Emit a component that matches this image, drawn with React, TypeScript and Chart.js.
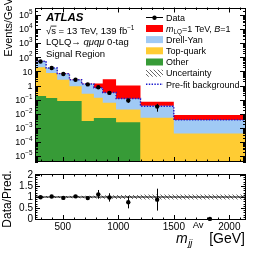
import React, { useEffect, useRef } from "react";
import { Chart, registerables } from "chart.js";
Chart.register(...registerables);

const FONT = "'Liberation Sans', Arial, Helvetica, sans-serif";

// ---- data ----
const binEdges = [250, 350, 450, 560, 670, 780, 860, 980, 1200, 1500, 2150];
const otherBkg = [0.18, 0.13, 0.08, 0.08, 0.0031, 0.005, 0.005, 0.0025, 0, 0];
const topQuark = [19.2, 7.67, 2.52, 0.82, 0.257, 0.13, 0.055, 0.0175, 0.0053, 0.0004];
const drellYan = [32.6, 9.5, 4.3, 1.6, 1.0, 0.535, 0.25, 0.096, 0.031, 0.0032];
const signalLQ = [0.4, 0.25, 0.15, 0.12, 0.1, 0.73, 2.5, 0.9, 0.035, 0.0044];
const preFitBkg = [53, 17.6, 7.0, 2.6, 1.28, 0.7, 0.32, 0.12, 0.034, 0.0037];
const dataValues = [51, 17.6, 6.6, 2.6, 1.2, 0.75, 0.3, 0.088, 0.032, 0];
const dataErrors = [1.4, 0.7, 0.35, 0.17, 0.09, 0.13, 0.06, 0.028, 0.018, 0];
const ratioValues = [0.99, 1.02, 0.96, 1.03, 0.95, 1.12, 0.98, 0.76, 0.88, 0];
const ratioErrors = [0.03, 0.04, 0.05, 0.06, 0.07, 0.2, 0.19, 0.28, 0.5, 0];
const uncertainty = [0.045, 0.045, 0.05, 0.055, 0.06, 0.07, 0.08, 0.09, 0.11, 0.11];
const ratioTickValues = [0, 0.5, 1, 1.5, 2];
const xTickValues = [500, 1000, 1500, 2000];
const logExponents = [5, 4, 3, 2, 1, 0, -1, -2, -3, -4, -5];

const X_MIN = 250;
const X_MAX = 2150;
const Y_MIN = 3.8e-6;
const Y_MAX = 3.4e5;

const RED = "#ff0000";
const BLUE = "#a0caf5";
const YELLOW = "#ffcc33";
const GREEN = "#379b37";
const PREFIT = "#1a1acc";

const binCenters = binEdges.slice(0, -1).map((e, i) => (e + binEdges[i + 1]) / 2);

function histPoints(values: number[]) {
  const pts: { x: number; y: number }[] = [];
  for (let i = 0; i < values.length; i++) {
    if (values[i] > 0) {
      pts.push({ x: binEdges[i], y: values[i] });
      if (i === values.length - 1 || !(values[i + 1] > 0)) pts.push({ x: binEdges[i + 1], y: values[i] });
    }
  }
  return pts;
}

const cumOther = otherBkg.slice();
const cumTop = otherBkg.map((v, i) => v + topQuark[i]);
const cumDY = cumTop.map((v, i) => v + drellYan[i]);
const cumSig = cumDY.map((v, i) => v + signalLQ[i]);

type Seg = { t: string; size: number; italic?: boolean; bold?: boolean; dy?: number; dx?: number };

function fontOf(s: Seg) {
  return `${s.italic ? "italic " : ""}${s.bold ? "bold " : ""}${s.size}px ${FONT}`;
}

function drawSegs(ctx: CanvasRenderingContext2D, segs: Seg[], x: number, y: number, align: "left" | "right" = "left") {
  ctx.save();
  ctx.textBaseline = "alphabetic";
  ctx.textAlign = "left";
  ctx.fillStyle = "#000";
  let total = 0;
  for (const s of segs) {
    ctx.font = fontOf(s);
    total += ctx.measureText(s.t).width + (s.dx || 0);
  }
  let cx = align === "right" ? x - total : x;
  const out: { x: number; w: number }[] = [];
  for (const s of segs) {
    ctx.font = fontOf(s);
    cx += s.dx || 0;
    const w = ctx.measureText(s.t).width;
    ctx.fillText(s.t, cx, y + (s.dy || 0));
    out.push({ x: cx, w });
    cx += w;
  }
  ctx.restore();
  return out;
}

function makeHatch() {
  const c = document.createElement("canvas");
  c.width = 4;
  c.height = 4;
  const g = c.getContext("2d")!;
  g.strokeStyle = "#555";
  g.lineWidth = 0.9;
  g.beginPath();
  g.moveTo(0, 0); g.lineTo(4, 4);
  g.moveTo(-1, 3); g.lineTo(1, 5);
  g.moveTo(3, -1); g.lineTo(5, 1);
  g.stroke();
  return g.createPattern(c, "repeat")!;
}

function line(ctx: CanvasRenderingContext2D, x1: number, y1: number, x2: number, y2: number) {
  ctx.beginPath();
  ctx.moveTo(x1, y1);
  ctx.lineTo(x2, y2);
  ctx.stroke();
}

function drawXTicks(ctx: CanvasRenderingContext2D, a: any, x: any, major: number, minor: number) {
  for (let v = 300; v <= 2100; v += 100) {
    const px = Math.round(x.getPixelForValue(v)) + 0.5;
    const len = v % 500 === 0 ? major : minor;
    line(ctx, px, a.bottom, px, a.bottom - len);
    line(ctx, px, a.top, px, a.top + len);
  }
}

function drawFrame(ctx: CanvasRenderingContext2D, a: any) {
  const l = Math.round(a.left) + 0.5;
  const r = Math.round(a.right) - 0.5;
  const t = Math.round(a.top) + 0.5;
  const b = Math.round(a.bottom) - 0.5;
  ctx.strokeRect(l, t, r - l, b - t);
}

export default function App() {
  const upperRef = useRef<HTMLCanvasElement>(null);
  const lowerRef = useRef<HTMLCanvasElement>(null);

  useEffect(() => {
    const hatch = makeHatch();

    const upperDecor = {
      id: "upperDecor",
      afterDatasetsDraw(chart: any) {
        const { ctx, chartArea: a, scales } = chart;
        const x = scales.x, y = scales.y;
        ctx.save();
        ctx.beginPath();
        ctx.rect(a.left, a.top, a.right - a.left, a.bottom - a.top);
        ctx.clip();
        ctx.strokeStyle = "#000";
        ctx.lineWidth = 1;
        dataValues.forEach((v, i) => {
          if (!(v > 0)) return;
          const e = dataErrors[i];
          const px = Math.round(x.getPixelForValue(binCenters[i])) + 0.5;
          const lo = Math.max(v - e, Y_MIN);
          line(ctx, px, y.getPixelForValue(lo), px, y.getPixelForValue(v + e));
        });
        ctx.restore();
      },
      afterDraw(chart: any) {
        const { ctx, chartArea: a, scales } = chart;
        const x = scales.x, y = scales.y;
        ctx.save();
        ctx.strokeStyle = "#000";
        ctx.lineWidth = 1;
        drawFrame(ctx, a);
        drawXTicks(ctx, a, x, 5, 2.5);
        for (let e = -6; e <= 5; e++) {
          for (let k = 1; k <= 9; k++) {
            const v = k * Math.pow(10, e);
            if (v < Y_MIN || v > Y_MAX) continue;
            const py = Math.round(y.getPixelForValue(v)) + 0.5;
            const len = k === 1 ? 6 : 3;
            line(ctx, a.left, py, a.left + len, py);
            line(ctx, a.right, py, a.right - len, py);
          }
        }
        // y tick labels
        logExponents.forEach((e) => {
          const py = y.getPixelForValue(Math.pow(10, e));
          const base = py + 3.2;
          if (e === 1) drawSegs(ctx, [{ t: "10", size: 9 }], 32.5, base, "right");
          else if (e === 0) drawSegs(ctx, [{ t: "1", size: 9 }], 32.5, base, "right");
          else
            drawSegs(
              ctx,
              [
                { t: "10", size: 9 },
                { t: e < 0 ? "\u2212" + String(-e) : String(e), size: 6.3, dy: -4.2 },
              ],
              32.5,
              base,
              "right"
            );
        });
        // y title
        ctx.save();
        ctx.translate(12, -2);
        ctx.rotate(-Math.PI / 2);
        ctx.textAlign = "right";
        ctx.textBaseline = "alphabetic";
        ctx.fillStyle = "#000";
        ctx.font = `11px ${FONT}`;
        ctx.fillText("Events/GeV", 0, 0);
        ctx.restore();

        // left annotations
        drawSegs(ctx, [{ t: "ATLAS", size: 11.5, bold: true, italic: true }], 46, 21.4);
        const s = drawSegs(
          ctx,
          [
            { t: "\u221A", size: 9.5 },
            { t: "s", size: 9.5 },
            { t: " = 13 TeV, 139 fb", size: 9.5 },
            { t: "\u22121", size: 6.3, dy: -4 },
          ],
          46,
          34.1
        );
        ctx.lineWidth = 0.8;
        line(ctx, s[1].x - 0.5, 34.1 - 8, s[1].x + s[1].w + 0.5, 34.1 - 8);
        ctx.lineWidth = 1;
        drawSegs(
          ctx,
          [
            { t: "LQLQ\u2192 ", size: 9.5 },
            { t: "q\u03BCq\u03BC", size: 9.5, italic: true },
            { t: " 0-tag", size: 9.5 },
          ],
          46,
          45.1
        );
        drawSegs(ctx, [{ t: "Signal Region", size: 9.5 }], 46, 56.7);

        // legend
        const lx = 146, lw = 17, tx = 166;
        const mids = [17.3, 28.5, 39.6, 50.8, 62.0, 73.2, 84.3];
        line(ctx, lx, Math.round(mids[0]) + 0.5, lx + lw, Math.round(mids[0]) + 0.5);
        ctx.fillStyle = "#000";
        ctx.beginPath();
        ctx.arc(lx + lw / 2, mids[0] + 0.5, 2.2, 0, Math.PI * 2);
        ctx.fill();
        drawSegs(ctx, [{ t: "Data", size: 9 }], tx, mids[0] + 3.2);
        const boxes: [any, number][] = [
          [RED, 1],
          [BLUE, 2],
          [YELLOW, 3],
          [GREEN, 4],
          [hatch, 5],
        ];
        boxes.forEach(([c, i]) => {
          ctx.fillStyle = c;
          ctx.fillRect(lx, mids[i] - 3.5, lw, 7);
        });
        drawSegs(
          ctx,
          [
            { t: "m", size: 9, italic: true },
            { t: "LQ", size: 6.3, dy: 2.5 },
            { t: "=1 TeV, ", size: 9 },
            { t: "B", size: 9, italic: true },
            { t: "=1", size: 9 },
          ],
          tx,
          mids[1] + 3.2
        );
        drawSegs(ctx, [{ t: "Drell-Yan", size: 9 }], tx, mids[2] + 3.2);
        drawSegs(ctx, [{ t: "Top-quark", size: 9 }], tx, mids[3] + 3.2);
        drawSegs(ctx, [{ t: "Other", size: 9 }], tx, mids[4] + 3.2);
        drawSegs(ctx, [{ t: "Uncertainty", size: 9 }], tx, mids[5] + 3.2);
        ctx.strokeStyle = PREFIT;
        ctx.lineWidth = 1.4;
        ctx.setLineDash([1.4, 1.4]);
        line(ctx, lx, mids[6], lx + lw, mids[6]);
        ctx.setLineDash([]);
        drawSegs(ctx, [{ t: "Pre-fit background", size: 9 }], tx, mids[6] + 3.2);
        ctx.restore();
      },
    };

    const fillLayer = (values: number[], color: string, order: number) => ({
      type: "line" as const,
      data: histPoints(values),
      stepped: "before" as const,
      fill: "start",
      backgroundColor: color,
      borderColor: "rgba(0,0,0,0)",
      borderWidth: 0,
      pointRadius: 0,
      order,
    });

    const upper = new Chart(upperRef.current!, {
      type: "line",
      data: {
        datasets: [
          fillLayer(cumSig, RED, 5),
          fillLayer(cumDY, BLUE, 4),
          fillLayer(cumTop, YELLOW, 3),
          fillLayer(cumOther, GREEN, 2),
          {
            type: "line",
            data: histPoints(preFitBkg),
            stepped: "before",
            fill: false,
            borderColor: PREFIT,
            borderWidth: 1.4,
            borderDash: [1.4, 1.4],
            pointRadius: 0,
            order: 1,
          },
          {
            type: "line",
            data: binCenters.map((c, i) => ({ x: c, y: dataValues[i] })).filter((p) => p.y > 0),
            showLine: false,
            pointRadius: 2.2,
            pointBackgroundColor: "#000",
            pointBorderWidth: 0,
            order: 0,
          },
        ] as any,
      },
      options: {
        animation: false,
        responsive: false,
        devicePixelRatio: 1,
        events: [],
        layout: { padding: { top: 7.5, right: 20, bottom: 3, left: 0 } },
        plugins: { legend: { display: false }, tooltip: { enabled: false } },
        scales: {
          x: { type: "linear", min: X_MIN, max: X_MAX, display: false },
          y: {
            type: "logarithmic",
            min: Y_MIN,
            max: Y_MAX,
            afterFit: (s: any) => {
              s.width = 35;
            },
            ticks: { display: false },
            grid: { display: false, drawTicks: false },
            border: { display: false },
          },
        },
      } as any,
      plugins: [upperDecor],
    });

    const lowerDecor = {
      id: "lowerDecor",
      afterDatasetsDraw(chart: any) {
        const { ctx, scales } = chart;
        const x = scales.x, y = scales.y;
        ctx.save();
        ctx.strokeStyle = "#000";
        ctx.lineWidth = 1;
        ratioValues.forEach((v, i) => {
          const e = ratioErrors[i];
          if (!(e > 0)) return;
          const px = Math.round(x.getPixelForValue(binCenters[i])) + 0.5;
          line(ctx, px, y.getPixelForValue(Math.max(v - e, y.min)), px, y.getPixelForValue(Math.min(v + e, y.max)));
        });
        ctx.restore();
      },
      afterDraw(chart: any) {
        const { ctx, chartArea: a, scales } = chart;
        const x = scales.x, y = scales.y;
        ctx.save();
        ctx.strokeStyle = "#000";
        ctx.lineWidth = 1;
        drawFrame(ctx, a);
        drawXTicks(ctx, a, x, 5, 2.5);
        for (let i = 0; i <= 20; i++) {
          const v = i / 10;
          const py = Math.round(y.getPixelForValue(v)) + 0.5;
          const len = i % 5 === 0 ? 5 : 2.5;
          line(ctx, a.left, py, a.left + len, py);
          line(ctx, a.right, py, a.right - len, py);
        }
        // y title
        ctx.save();
        ctx.translate(10.5, 33);
        ctx.rotate(-Math.PI / 2);
        ctx.textAlign = "center";
        ctx.textBaseline = "alphabetic";
        ctx.fillStyle = "#000";
        ctx.font = `12px ${FONT}`;
        ctx.fillText("Data/Pred.", 0, 0);
        ctx.restore();
        // x title
        const base = 77.3;
        const m = drawSegs(ctx, [{ t: "m", size: 14, italic: true }], 176, base);
        const mx = m[0].x + m[0].w;
        drawSegs(ctx, [{ t: "jj", size: 9.5, italic: true }], mx + 0.5, base + 3);
        drawSegs(ctx, [{ t: "Av", size: 9.5 }], mx + 5, base - 15);
        drawSegs(ctx, [{ t: "[GeV]", size: 14 }], 245, base, "right");
        ctx.restore();
      },
    };

    const lower = new Chart(lowerRef.current!, {
      type: "line",
      data: {
        datasets: [
          {
            type: "line",
            data: histPoints(uncertainty.map((u) => 1 - u)),
            stepped: "before",
            fill: false,
            borderColor: "rgba(0,0,0,0)",
            borderWidth: 0,
            pointRadius: 0,
            order: 3,
          },
          {
            type: "line",
            data: histPoints(uncertainty.map((u) => 1 + u)),
            stepped: "before",
            fill: "-1",
            backgroundColor: hatch,
            borderColor: "rgba(0,0,0,0)",
            borderWidth: 0,
            pointRadius: 0,
            order: 2,
          },
          {
            type: "line",
            data: [
              { x: X_MIN, y: 1 },
              { x: X_MAX, y: 1 },
            ],
            borderColor: "#000",
            borderWidth: 1,
            pointRadius: 0,
            fill: false,
            order: 1,
          },
          {
            type: "line",
            data: binCenters.map((c, i) => ({ x: c, y: ratioValues[i] })),
            showLine: false,
            pointRadius: 2.2,
            pointBackgroundColor: "#000",
            pointBorderWidth: 0,
            clip: false,
            order: 0,
          },
        ] as any,
      },
      options: {
        animation: false,
        responsive: false,
        devicePixelRatio: 1,
        events: [],
        layout: { padding: { top: 3.3, right: 20, bottom: 0, left: 0 } },
        plugins: { legend: { display: false }, tooltip: { enabled: false } },
        scales: {
          x: {
            type: "linear",
            min: X_MIN,
            max: X_MAX,
            afterFit: (s: any) => {
              s.height = 35;
            },
            afterBuildTicks: (s: any) => {
              s.ticks = xTickValues.map((v) => ({ value: v }));
            },
            ticks: {
              font: { size: 10, family: FONT },
              color: "#000",
              padding: 1.5,
              maxRotation: 0,
              autoSkip: false,
              callback: (v: any) => String(v),
            },
            grid: { display: false, drawTicks: false },
            border: { display: false },
          },
          y: {
            type: "linear",
            min: -0.05,
            max: 2.05,
            afterFit: (s: any) => {
              s.width = 35;
            },
            afterBuildTicks: (s: any) => {
              s.ticks = ratioTickValues.map((v) => ({ value: v }));
            },
            ticks: {
              font: { size: 10, family: FONT },
              color: "#000",
              padding: 2,
              autoSkip: false,
              callback: (v: any) => String(v),
            },
            grid: { display: false, drawTicks: false },
            border: { display: false },
          },
        },
      } as any,
      plugins: [lowerDecor],
    });

    return () => {
      upper.destroy();
      lower.destroy();
    };
  }, []);

  return (
    <div style={{ position: "fixed", left: 0, top: 0, width: 266, height: 255, background: "#fff" }}>
      <canvas
        ref={upperRef}
        width={266}
        height={166}
        style={{ position: "absolute", left: 0, top: 0, width: 266, height: 166 }}
      />
      <canvas
        ref={lowerRef}
        width={266}
        height={89}
        style={{ position: "absolute", left: 0, top: 166, width: 266, height: 89 }}
      />
    </div>
  );
}
